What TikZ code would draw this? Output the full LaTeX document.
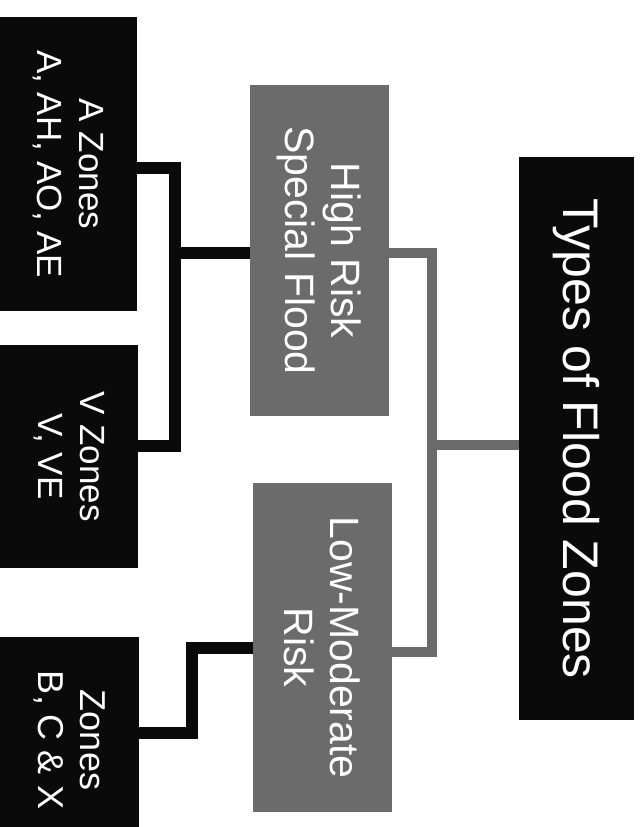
\documentclass[tikz,border=0pt]{standalone}
\usepackage{fontspec}
\setmainfont{Liberation Sans}
\usetikzlibrary{positioning}
\definecolor{zoneblack}{HTML}{0A0A0A}
\definecolor{zonegray}{HTML}{6B6B6B}

\begin{document}
\begin{tikzpicture}[x=1pt,y=-1pt,
  darkbox/.style={fill=zoneblack,text=white,rotate=-90,align=center,inner sep=0pt},
  graybox/.style={fill=zonegray,text=white,rotate=-90,align=center,inner sep=0pt},
  blackline/.style={draw=zoneblack,line width=12pt},
  grayline/.style={draw=zonegray,line width=10pt}]
  \useasboundingbox (0,0) rectangle (644,827);
  \clip (0,0) rectangle (644,827);
  % boxes (rotated, so width runs down the page)
  \node[darkbox,minimum width=563pt,minimum height=115pt,font=\fontsize{50}{55}\selectfont] (types) at (576.5,438.5) {Types of Flood Zones};
  \node[graybox,minimum width=331pt,minimum height=139pt,font=\fontsize{41}{46}\selectfont] (high) at (319.5,250.5) {High Risk\\Special Flood};
  \node[graybox,minimum width=329pt,minimum height=139pt,font=\fontsize{41}{46}\selectfont] (low) at (322.5,647.5) {Low-Moderate\\Risk};
  \node[darkbox,minimum width=294pt,minimum height=137pt,font=\fontsize{35}{42}\selectfont] (azones) at (68.5,164) {A Zones\\A, AH, AO, AE};
  \node[darkbox,minimum width=223pt,minimum height=138pt,font=\fontsize{35}{42}\selectfont] (vzones) at (69,456.5) {V Zones\\V, VE};
  \node[darkbox,minimum width=206pt,minimum height=139pt,font=\fontsize{36}{42}\selectfont] (bzones) at (69.5,740) {Zones\\B, C \& X};
  % connectors
  \coordinate (gbus) at (432,445);
  \coordinate (abus) at (175,253);
  \coordinate (bbend) at (192,690);
  \draw[grayline] ([yshift=-2pt]high.north) -| (gbus) |- ([yshift=-4pt]low.north);
  \draw[grayline] (gbus) -- (types.south |- gbus);
  \draw[blackline] ([yshift=-4pt]azones.north) -| (abus) |- ([yshift=11pt]vzones.north);
  \draw[blackline] (abus) -- (high.south |- abus);
  \draw[blackline] (low.south) -| (bbend) |- ([yshift=7pt]bzones.north);
\end{tikzpicture}
\end{document}
